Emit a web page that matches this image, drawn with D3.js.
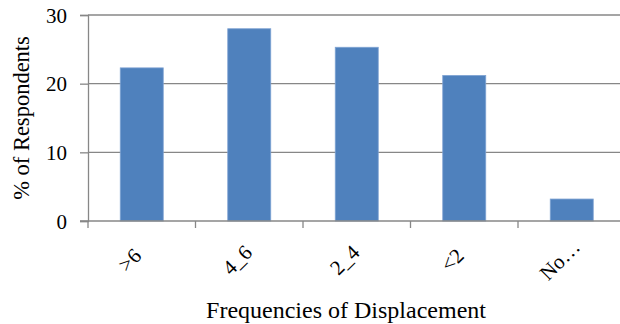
<!DOCTYPE html>
<html>
<head>
<meta charset="utf-8">
<script src="https://cdn.jsdelivr.net/npm/d3@7"></script>
<style>
  body { margin: 0; background: #fff; }
</style>
</head>
<body>
<div id="chart"></div>
<script>
// chart data
const categories = [">6", "4_6", "2_4", "<2", "No\u2026"];
const percentages = [22.3, 28.0, 25.3, 21.2, 3.2];
const yTicks = [0, 10, 20, 30];

const width = 620, height = 324;
const margin = { top: 15, right: -5.5, bottom: 103, left: 88 };
const gridColor = "#878787";
const serif = '"Liberation Serif", "Times New Roman", serif';

const svg = d3.select("#chart").append("svg")
    .attr("width", width)
    .attr("height", height)
    .style("font-family", serif);

const x = d3.scaleBand()
    .domain(categories)
    .range([margin.left, width - margin.right])
    .paddingInner(0.6)
    .paddingOuter(0.3);

const y = d3.scaleLinear()
    .domain([0, 30])
    .range([height - margin.bottom, margin.top]);

// horizontal gridlines
svg.append("g")
    .selectAll("line")
    .data(yTicks.slice(1))
    .join("line")
    .attr("x1", margin.left)
    .attr("x2", width)
    .attr("y1", d => y(d))
    .attr("y2", d => y(d))
    .attr("stroke", gridColor)
    .attr("stroke-width", 1.3);

// bars
svg.append("g")
    .selectAll("rect")
    .data(percentages)
    .join("rect")
    .attr("x", (d, i) => x(categories[i]))
    .attr("y", d => y(d))
    .attr("width", x.bandwidth())
    .attr("height", d => y(0) - y(d))
    .attr("fill", "#4F81BD")
    .attr("stroke", "#7FA3D3")
    .attr("stroke-width", 0.8);

// y axis
const yAxis = svg.append("g")
    .attr("transform", `translate(${margin.left},0)`)
    .call(d3.axisLeft(y).tickValues(yTicks).tickSize(8).tickPadding(13));
yAxis.attr("font-family", null).attr("font-size", null);
yAxis.select(".domain").attr("stroke", gridColor).attr("stroke-width", 1.3);
yAxis.selectAll(".tick line").attr("stroke", gridColor).attr("stroke-width", 1.3);
yAxis.selectAll(".tick text")
    .style("font-family", serif)
    .style("font-size", "21px")
    .attr("fill", "#000")
    .attr("dy", "0.34em");

// x axis: ticks at band edges
const xAxisG = svg.append("g")
    .attr("transform", `translate(0,${y(0)})`);
xAxisG.append("line")
    .attr("x1", margin.left - 8)
    .attr("x2", width)
    .attr("stroke", gridColor)
    .attr("stroke-width", 1.3);
xAxisG.selectAll(".edge")
    .data(categories)
    .join("line")
    .attr("class", "edge")
    .attr("x1", d => x(d) - x.step() * 0.3)
    .attr("x2", d => x(d) - x.step() * 0.3)
    .attr("y1", 0)
    .attr("y2", 7)
    .attr("stroke", gridColor)
    .attr("stroke-width", 1.3);

// rotated category labels
xAxisG.selectAll(".cat")
    .data(categories)
    .join("text")
    .attr("class", "cat")
    .attr("transform", d => `translate(${x(d) + x.bandwidth() / 2 - 7},${44}) rotate(-45)`)
    .attr("text-anchor", "middle")
    .style("font-family", serif)
    .style("font-size", "21px")
    .text(d => d);

// axis titles
svg.append("text")
    .attr("transform", `translate(29,${(margin.top + y(0)) / 2}) rotate(-90)`)
    .attr("text-anchor", "middle")
    .style("font-size", "22.5px")
    .text("% of Respondents");

svg.append("text")
    .attr("x", 346)
    .attr("y", 318)
    .attr("text-anchor", "middle")
    .style("font-size", "24px")
    .text("Frequencies of Displacement");
</script>
</body>
</html>
